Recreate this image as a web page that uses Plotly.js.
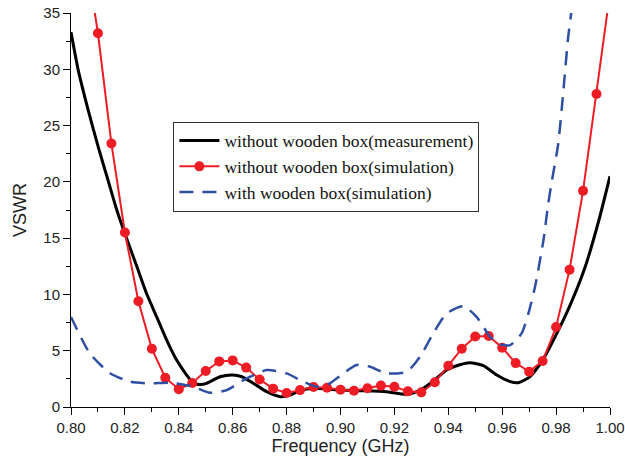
<!DOCTYPE html>
<html>
<head>
<meta charset="utf-8">
<script src="https://cdn.plot.ly/plotly-3.0.1.min.js"></script>
<style>html,body{margin:0;padding:0;background:#fff;}#chart{width:625px;height:457px;}</style>
</head>
<body>
<div id="chart"></div>
<script>
// Measurement without wooden box (black solid)
const measFreq = [0.800,0.8027,0.8064,0.8101,0.8138,0.817,0.820,0.8244,0.828,0.8318,0.8355,0.8392,0.8429,0.8454,0.848,0.8503,0.8553,0.860,0.8634,0.8677,0.8726,0.8776,0.8813,0.885,0.890,0.895,0.900,0.9085,0.917,0.9246,0.9295,0.9344,0.9394,0.9443,0.948,0.953,0.958,0.963,0.966,0.9703,0.9753,0.981,0.986,0.991,0.996,1.000];
const measVSWR = [33.3,29.9,26.35,23.1,20.1,17.5,15.4,12.5,10.1,8.0,5.95,4.17,2.84,2.1,2.0,2.1,2.69,2.84,2.69,2.1,1.36,0.92,1.06,1.45,1.66,1.6,1.5,1.45,1.36,1.12,1.5,2.3,3.28,3.75,3.93,3.67,2.84,2.25,2.16,2.69,4.3,6.9,9.5,12.6,16.7,20.5];

// Simulation without wooden box (red with circles)
const simFreq = [0.805,0.810,0.815,0.820,0.825,0.830,0.835,0.840,0.845,0.850,0.855,0.860,0.865,0.870,0.875,0.880,0.885,0.890,0.895,0.900,0.905,0.910,0.915,0.920,0.925,0.930,0.935,0.940,0.945,0.950,0.955,0.960,0.965,0.970,0.975,0.980,0.985,0.990,0.995,1.000];
const simVSWR = [41,33.2,23.4,15.5,9.4,5.17,2.6,1.57,2.13,3.2,4.05,4.14,3.5,2.45,1.63,1.24,1.5,1.77,1.71,1.54,1.45,1.66,1.9,1.8,1.39,1.3,2.2,3.67,5.18,6.27,6.3,5.27,3.9,3.14,4.08,7.1,12.2,19.2,27.8,36.8];

// Simulation with wooden box (blue dashed)
const boxFreq = [0.800,0.807,0.8145,0.822,0.8293,0.8367,0.8454,0.8516,0.8578,0.8652,0.8726,0.880,0.8862,0.8912,0.8961,0.8998,0.906,0.911,0.917,0.9246,0.9295,0.9344,0.9394,0.9456,0.9505,0.9555,0.9592,0.963,0.9672,0.9697,0.9722,0.9753,0.977,0.9783,0.9808,0.9827,0.9845,0.9857,0.990];
const boxVSWR = [8.0,4.76,3.0,2.25,2.1,2.16,1.8,1.27,1.5,2.54,3.28,2.99,2.25,1.8,2.1,2.76,3.73,3.58,2.99,3.13,4.46,6.54,8.31,8.96,8.01,6.24,5.56,5.5,6.54,8.3,10.7,14.8,17.9,19.9,23.4,28.1,32.9,35.2,45];

const names = ['without wooden box(measurement)','without wooden box(simulation)','with wooden box(simulation)'];
const xTickVals = [0.80,0.82,0.84,0.86,0.88,0.90,0.92,0.94,0.96,0.98,1.00];
const xTickText = ['0.80','0.82','0.84','0.86','0.88','0.90','0.92','0.94','0.96','0.98','1.00'];
const yTickVals = [0,5,10,15,20,25,30,35];

const traces = [
  {x: measFreq, y: measVSWR, name: names[0], mode: 'lines', type: 'scatter',
   line: {color: '#000000', width: 3, shape: 'spline', smoothing: 0.6}},
  {x: simFreq, y: simVSWR, name: names[1], mode: 'lines+markers', type: 'scatter',
   line: {color: '#ee1c24', width: 2}, marker: {color: '#ee1c24', size: 10, symbol: 'circle'}},
  {x: boxFreq, y: boxVSWR, name: names[2], mode: 'lines', type: 'scatter',
   line: {color: '#2e4fa3', width: 2.5, dash: '14px,9px', shape: 'spline', smoothing: 0.6}}
];

const tickFont = {family: 'Liberation Sans, Arial, sans-serif', size: 15, color: '#222'};
const layout = {
  width: 625, height: 457,
  margin: {l: 71, r: 15, t: 13, b: 50},
  paper_bgcolor: '#ffffff', plot_bgcolor: '#ffffff',
  showlegend: true,
  legend: {x: 0.19, y: 0.724, xanchor: 'left', yanchor: 'top',
    bgcolor: '#ffffff', bordercolor: '#333333', borderwidth: 1,
    font: {family: 'Liberation Serif, Times New Roman, serif', size: 17.5, color: '#111'},
    itemwidth: 40, tracegroupgap: 0},
  xaxis: {range: [0.80, 1.00], tickmode: 'array', tickvals: xTickVals, ticktext: xTickText,
    ticks: 'outside', ticklen: 7, tickwidth: 1, tickcolor: '#000',
    minor: {dtick: 0.01, tick0: 0.80, ticks: 'outside', ticklen: 4, tickcolor: '#000', showgrid: false},
    showline: true, linecolor: '#000', linewidth: 1, showgrid: false, zeroline: false,
    tickfont: tickFont,
    title: {text: 'Frequency (GHz)', font: {family: 'Liberation Sans, Arial, sans-serif', size: 18, color: '#222'}, standoff: 4}},
  yaxis: {range: [0, 35], tickmode: 'array', tickvals: yTickVals,
    ticks: 'outside', ticklen: 7, tickwidth: 1, tickcolor: '#000',
    minor: {dtick: 2.5, tick0: 0, ticks: 'outside', ticklen: 4, tickcolor: '#000', showgrid: false},
    showline: true, linecolor: '#000', linewidth: 1, showgrid: false, zeroline: false,
    tickfont: tickFont,
    title: {text: 'VSWR', font: {family: 'Liberation Sans, Arial, sans-serif', size: 18, color: '#222'}, standoff: 12}},
  xaxis2: {overlaying: 'x', side: 'top', anchor: 'y', range: [0.80, 1.00], tickmode: 'array', tickvals: xTickVals,
    ticks: 'inside', ticklen: 7, tickcolor: '#000', showticklabels: false,
    minor: {dtick: 0.01, tick0: 0.80, ticks: 'inside', ticklen: 4, tickcolor: '#000'},
    showline: true, linecolor: '#000', linewidth: 1, showgrid: false, zeroline: false},
  yaxis2: {overlaying: 'y', side: 'right', anchor: 'x', range: [0, 35], tickmode: 'array', tickvals: yTickVals,
    ticks: 'inside', ticklen: 7, tickcolor: '#000', showticklabels: false,
    minor: {dtick: 2.5, tick0: 0, ticks: 'inside', ticklen: 4, tickcolor: '#000'},
    showline: true, linecolor: '#000', linewidth: 1, showgrid: false, zeroline: false}
};

Plotly.newPlot('chart', traces, layout, {staticPlot: true, displayModeBar: false});
</script>
</body>
</html>
